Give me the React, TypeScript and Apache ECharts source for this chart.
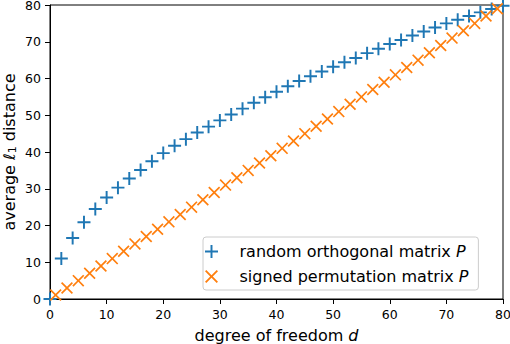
import React, { useEffect, useRef } from "react";
import * as echarts from "echarts";

const evenD = [0, 2, 4, 6, 8, 10, 12, 14, 16, 18, 20, 22, 24, 26, 28, 30, 32, 34, 36, 38, 40, 42, 44, 46, 48, 50, 52, 54, 56, 58, 60, 62, 64, 66, 68, 70, 72, 74, 76, 78, 80];
const orthogonalValues = [0, 11.0, 16.6, 20.9, 24.5, 27.6, 30.3, 32.8, 35.1, 37.5, 39.7, 41.7, 43.5, 45.3, 46.9, 48.6, 50.2, 51.8, 53.4, 54.9, 56.4, 57.9, 59.3, 60.6, 61.9, 63.2, 64.4, 65.6, 66.9, 68.1, 69.4, 70.5, 71.7, 72.8, 73.9, 75.0, 76.0, 77.0, 78.0, 78.9, 79.8];
const oddD = [1, 3, 5, 7, 9, 11, 13, 15, 17, 19, 21, 23, 25, 27, 29, 31, 33, 35, 37, 39, 41, 43, 45, 47, 49, 51, 53, 55, 57, 59, 61, 63, 65, 67, 69, 71, 73, 75, 77, 79];
const permutationValues = [1.1, 3.0, 5.0, 7.0, 9.0, 11.0, 13.0, 15.0, 17.0, 19.0, 21.0, 23.0, 25.0, 27.0, 29.0, 31.0, 33.0, 35.0, 37.0, 39.0, 41.0, 43.0, 45.0, 47.0, 49.0, 51.0, 53.0, 55.0, 57.0, 59.0, 61.0, 63.0, 65.0, 67.0, 69.0, 71.0, 73.0, 75.0, 77.0, 79.0];
const seriesNames = ["random orthogonal matrix", "signed permutation matrix"];

const PLUS = "path://M-0.15,-1L0.15,-1L0.15,-0.15L1,-0.15L1,0.15L0.15,0.15L0.15,1L-0.15,1L-0.15,0.15L-1,0.15L-1,-0.15L-0.15,-0.15Z";
const CROSS = "path://M-1,-0.8L-0.8,-1L0,-0.2L0.8,-1L1,-0.8L0.2,0L1,0.8L0.8,1L0,0.2L-0.8,1L-1,0.8L-0.2,0Z";

const FONT = "DejaVu Sans";
const FS = 16;
const TICK_FS = 12.5;

export default function App() {
  const ref = useRef<HTMLDivElement>(null);
  useEffect(() => {
    if (!ref.current) return;
    const chart = echarts.init(ref.current, null, { renderer: "svg" });
    const axisCommon = {
      type: "value",
      min: 0,
      max: 80,
      interval: 10,
      nameMoveOverlap: false,
      splitLine: { show: false },
      axisLine: { show: true, lineStyle: { color: "#000", width: 1 } },
      axisTick: { show: true, length: 5, lineStyle: { color: "#000", width: 1 } },
      axisLabel: { color: "#000", fontFamily: FONT, fontSize: TICK_FS },
      nameTextStyle: { color: "#000", fontFamily: FONT, fontSize: FS },
    };
    chart.setOption({
      animation: false,
      backgroundColor: "#fff",
      grid: {
        left: 50,
        right: 7,
        top: 5,
        bottom: 45,
        show: true,
        borderColor: "#000",
        borderWidth: 1,
        backgroundColor: "transparent",
        outerBoundsMode: "none",
        containLabel: false,
      },
      xAxis: {
        ...axisCommon,
        axisLabel: { ...axisCommon.axisLabel, margin: 9 },
        name: "degree of freedom {i|d}",
        nameLocation: "middle",
        nameGap: 28,
        nameTextStyle: {
          ...axisCommon.nameTextStyle,
          lineHeight: 16,
          rich: { i: { fontStyle: "italic", fontFamily: FONT, fontSize: FS, color: "#000", lineHeight: 16 } },
        },
      },
      yAxis: {
        ...axisCommon,
        axisLabel: { ...axisCommon.axisLabel, margin: 9 },
        name: "average {l|ℓ}{s|1} distance",
        nameLocation: "middle",
        nameGap: 32,
        nameRotate: 90,
        nameTextStyle: {
          ...axisCommon.nameTextStyle,
          lineHeight: 18,
          rich: {
            l: { fontStyle: "italic", fontFamily: FONT, fontSize: FS, color: "#000", lineHeight: 18 },
            s: { fontFamily: FONT, fontSize: 11, color: "#000", lineHeight: 10, verticalAlign: "bottom" },
          },
        },
      },
      legend: {
        orient: "vertical",
        left: 203,
        top: 237,
        itemWidth: 46,
        itemHeight: 13,
        itemGap: 6,
        padding: [5, 10, 4, 2],
        borderColor: "#cccccc",
        borderWidth: 1,
        borderRadius: 3,
        backgroundColor: "rgba(255,255,255,0.8)",
        formatter: (name: string) => `${name} {i|P}`,
        textStyle: {
          color: "#000",
          fontFamily: FONT,
          fontSize: FS,
          lineHeight: 19,
          rich: { i: { fontStyle: "italic", fontFamily: FONT, fontSize: FS, color: "#000", lineHeight: 19 } },
        },
        data: seriesNames,
      },
      series: [
        {
          name: seriesNames[0],
          type: "scatter",
          symbol: PLUS,
          symbolSize: 13,
          itemStyle: { color: "#1f77b4", opacity: 1 },
          data: evenD.map((d, i) => [d, orthogonalValues[i]]),
          z: 2,
        },
        {
          name: seriesNames[1],
          type: "scatter",
          symbol: CROSS,
          symbolSize: 12,
          itemStyle: { color: "#ff7f0e", opacity: 1 },
          data: oddD.map((d, i) => [d, permutationValues[i]]),
          z: 3,
        },
      ],
    });
    return () => chart.dispose();
  }, []);
  return <div ref={ref} style={{ width: 510, height: 344, position: "absolute", left: 0, top: 0 }} />;
}
